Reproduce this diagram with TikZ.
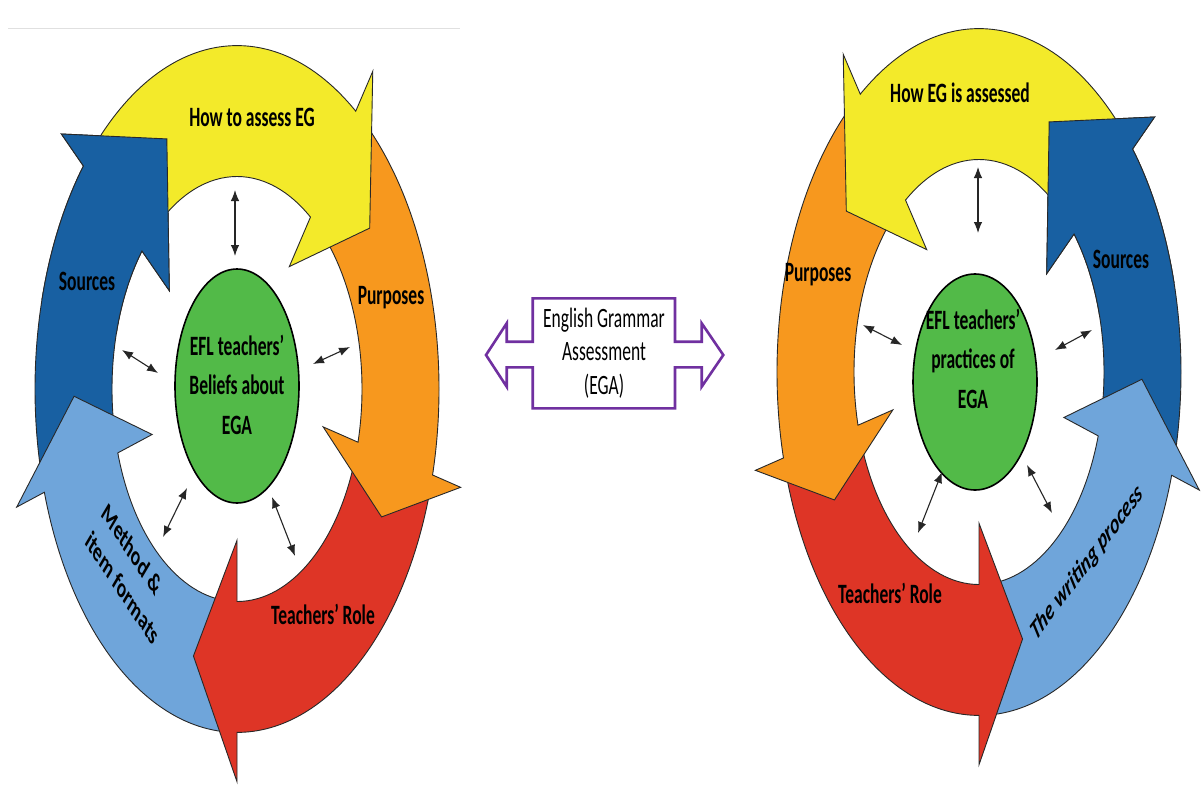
\documentclass[tikz,border=0pt]{standalone}
\usepackage{fontspec}
\setmainfont{Carlito}
\usepackage{graphicx}
\usetikzlibrary{arrows.meta,shapes.geometric}

\definecolor{cyYellow}{RGB}{243,234,42}
\definecolor{cyOrange}{RGB}{247,152,30}
\definecolor{cyRed}{RGB}{222,53,38}
\definecolor{cyLight}{RGB}{111,165,218}
\definecolor{cyBlue}{RGB}{24,96,162}
\definecolor{cyGreen}{RGB}{82,186,72}
\definecolor{cyPurple}{RGB}{112,48,160}
\definecolor{cyEdge}{RGB}{40,40,40}

% ring geometry (circle space, stretched vertically by the scope)
\newcommand\cyRout{202}
\newcommand\cyRin{125}
\newcommand\cyRbo{231}
\newcommand\cyRbi{89}
\newcommand\cyRtip{163}
\newcommand\cytall[1]{\scalebox{1}[1.6]{#1}}

% block arc arrow: tail angle, head base angle, tip angle, colour
\newcommand\ringarrow[4]{%
  \path[fill=#4, draw=cyEdge, line width=0.9pt, line join=miter]
    (#1:\cyRout) arc[start angle=#1, end angle=#2, radius=\cyRout]
    -- (#2:\cyRbo) -- (#3:\cyRtip) -- (#2:\cyRbi) -- (#2:\cyRin)
    arc[start angle=#2, end angle=#1, radius=\cyRin] -- cycle;}

% the five arrows of one cycle; the first head is laid again on top
\newcommand\drawcycle{%
  \ringarrow{194.5}{139.5}{115.5}{cyBlue}
  \ringarrow{-93}{-162.5}{-178.5}{cyLight}
  \ringarrow{-17}{-90}{-105.5}{cyRed}
  \ringarrow{51}{-14.5}{-27.5}{cyOrange}
  \ringarrow{136}{54}{35.5}{cyYellow}
  \begin{scope}
    \clip (0,0) -- (95:330) -- (127:330) -- (165:330) -- cycle;
    \ringarrow{194.5}{139.5}{115.5}{cyBlue}
  \end{scope}}

\tikzset{
  lab/.style={font=\fontsize{17.5}{21}\selectfont\bfseries, inner sep=0pt},
  core/.style={ellipse, draw=black, line width=1.6pt, fill=cyGreen, inner sep=0pt},
  link/.style={{Latex[length=11pt,width=8.5pt]}-{Latex[length=11pt,width=8.5pt]}, line width=1.1pt, black!85},
}

\begin{document}
\begin{tikzpicture}[x=1pt,y=1pt]
\useasboundingbox (0,0) rectangle (1201,-787);
\fill[white] (0,0) rectangle (1201,-787);
\draw[black!12, line width=0.8pt] (8,-28) -- (460,-28);

% left cycle
\begin{scope}[shift={(237,-389)}, yscale=1.7]
  \drawcycle
\end{scope}
% right cycle, mirrored
\begin{scope}[shift={(979,-372)}, xscale=-1, yscale=1.7]
  \drawcycle
\end{scope}

% centre ellipses
\node[core, minimum width=124pt, minimum height=234pt] (coreL) at (237,-386) {};
\node[lab] (coreLtxt) at (237,-387) {\cytall{\fontsize{17.5}{24.5}\selectfont\begin{tabular}{@{}c@{}}EFL teachers’\\Beliefs about\\EGA\end{tabular}}};
\node[core, minimum width=124pt, minimum height=216pt] (coreR) at (975,-382) {};
\node[lab] (coreRtxt) at (973,-361) {\cytall{\fontsize{17.5}{24.5}\selectfont\begin{tabular}{@{}c@{}}EFL teachers’\\practices of\\EGA\end{tabular}}};

% labels of the left cycle
\node[lab] (lHow) at (252,-117) {\cytall{How to assess EG}};
\node[lab] (lSrc) at (87,-281) {\cytall{Sources}};
\node[lab] (lPur) at (391,-298) {\cytall{Purposes}};
\node[lab] (lRole) at (323,-614) {\cytall{Teachers’ Role}};
\begin{scope}[shift={(131,-574)}, yscale=1.6]
  \node[lab, font=\fontsize{17.5}{24}\selectfont\bfseries, transform shape, rotate=-43.3, align=left] (lMeth) at (0,0) {Method \&\\item formats};
\end{scope}

% labels of the right cycle
\node[lab] (rHow) at (960,-93) {\cytall{How EG is assessed}};
\node[lab] (rPur) at (818,-275) {\cytall{Purposes}};
\node[lab] (rSrc) at (1121,-259) {\cytall{Sources}};
\node[lab] (rRole) at (890,-593) {\cytall{Teachers’ Role}};
\begin{scope}[shift={(1087,-563)}, yscale=1.6]
  \node[lab, font=\fontsize{17.5}{21}\selectfont\bfseries\itshape, transform shape, rotate=40.1] (rWrit) at (0,0) {The writing process};
\end{scope}

% links between centre and ring
\coordinate (L1a) at (235,-190); \coordinate (L1b) at (235,-256);
\coordinate (L2a) at (122,-350); \coordinate (L2b) at (158,-373);
\coordinate (L3a) at (313,-364); \coordinate (L3b) at (350,-347);
\coordinate (L4a) at (163,-537); \coordinate (L4b) at (187,-488);
\coordinate (L5a) at (272,-497); \coordinate (L5b) at (295,-556);
\coordinate (R1a) at (978,-167); \coordinate (R1b) at (978,-233);
\coordinate (R2a) at (863,-325); \coordinate (R2b) at (902,-345);
\coordinate (R3a) at (1055,-350); \coordinate (R3b) at (1092,-330);
\coordinate (R4a) at (918,-533); \coordinate (R4b) at (942,-472);
\coordinate (R5a) at (1027,-465); \coordinate (R5b) at (1052,-513);
\foreach \k in {L1,L2,L3,L4,L5,R1,R2,R3,R4,R5}
  \draw[link] (\k a) -- (\k b);

% central double block arrow
\draw[cyPurple, line width=2.6pt, fill=white, line join=miter]
  (532.7,-298.3) -- (675,-298.3) -- (675,-341.7) -- (701.7,-341.7)
  -- (701.7,-323.3) -- (723.3,-355) -- (701.7,-386.7) -- (701.7,-367.3)
  -- (675,-367.3) -- (675,-408.3) -- (532.7,-408.3) -- (532.7,-367.3)
  -- (506.7,-367.3) -- (506.7,-386.7) -- (486,-355) -- (506.7,-323.3)
  -- (506.7,-341.7) -- (532.7,-341.7) -- cycle;
\node[inner sep=0pt] (ega) at (604,-354) {\cytall{\fontsize{17.5}{21}\selectfont\begin{tabular}{@{}c@{}}English Grammar\\Assessment\\(EGA)\end{tabular}}};
\end{tikzpicture}
\end{document}
